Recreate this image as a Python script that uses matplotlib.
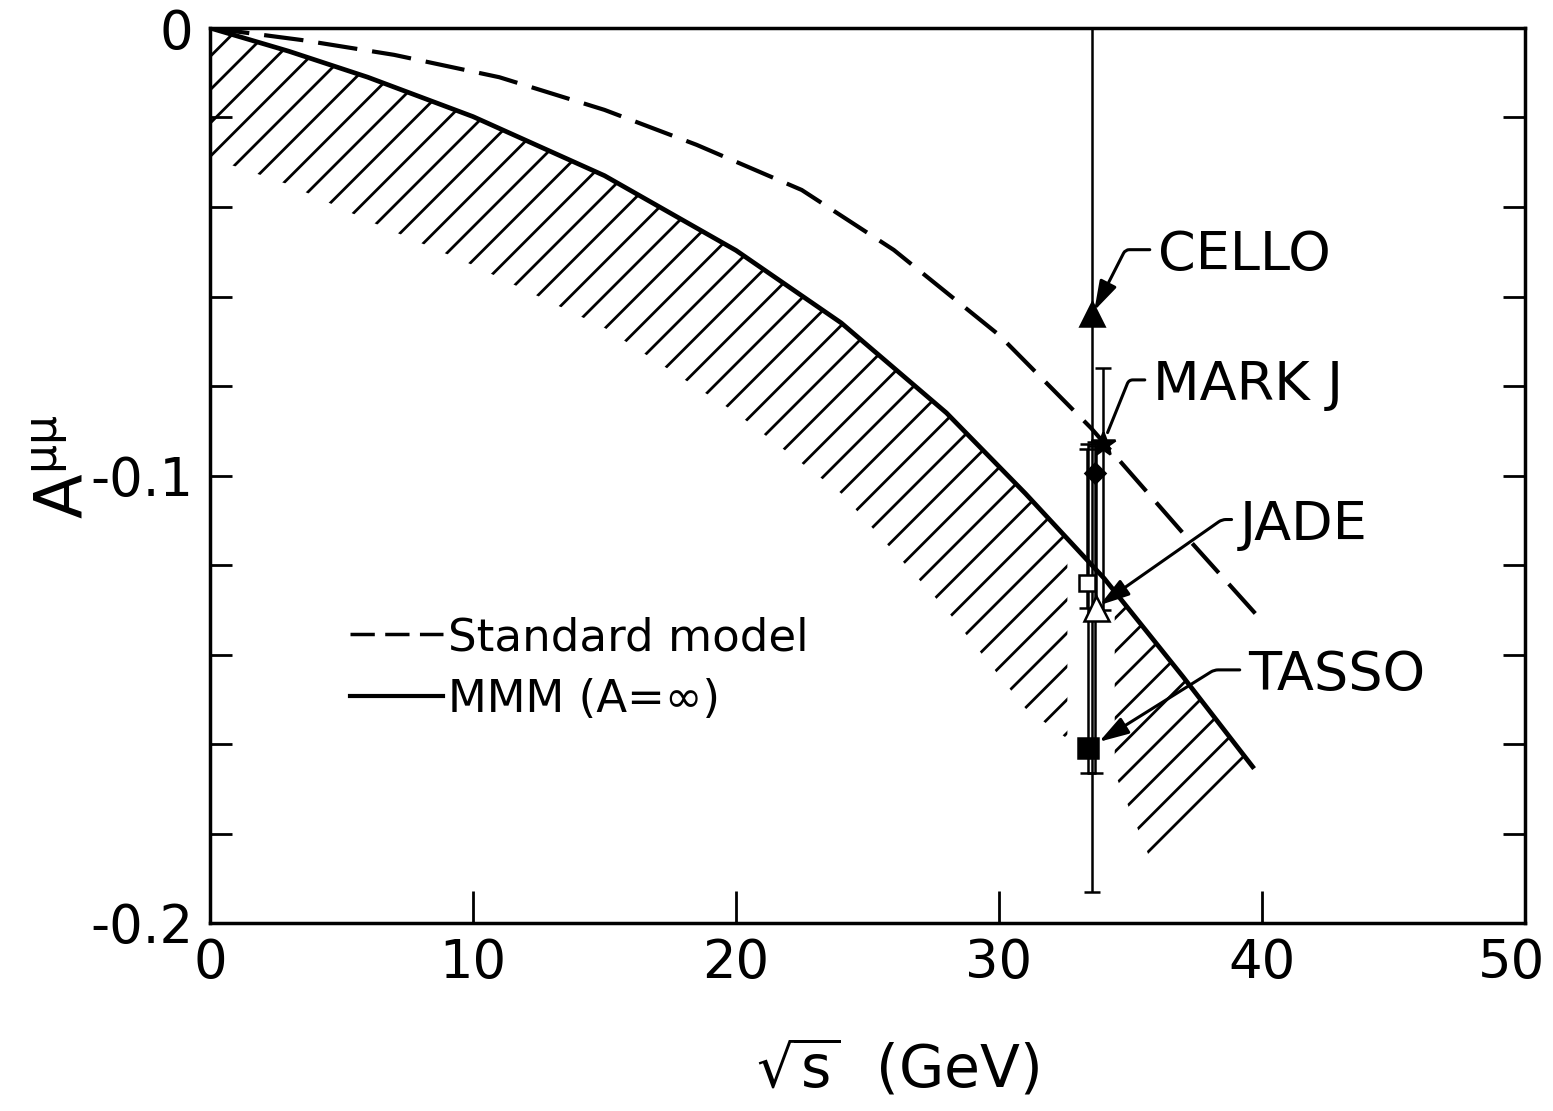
import numpy as np
import matplotlib
matplotlib.use("Agg")
import matplotlib.pyplot as plt
from matplotlib.lines import Line2D
from matplotlib.ticker import MultipleLocator, FixedLocator
from matplotlib.transforms import ScaledTranslation

plt.rcParams['font.family'] = ['DejaVu Sans']
plt.rcParams['mathtext.fontset'] = 'dejavusans'
plt.rcParams['mathtext.default'] = 'regular'
plt.rcParams['hatch.linewidth'] = 2.0

# MMM (A = infinity) curve, upper edge of the hatched band
mmm_x = [0, 3, 6, 10, 15, 20, 24, 28, 31, 34, 37, 39.7]
mmm_y = [0, -0.0052, -0.0110, -0.0198, -0.0330, -0.0497, -0.0659, -0.0860,
         -0.1040, -0.1230, -0.1450, -0.1655]

# lower edge of the hatched band
low_x = [0, 3, 6, 10, 15, 20, 24, 28, 31, 34.4, 35.7]
low_y = [-0.029, -0.035, -0.043, -0.053, -0.067, -0.086, -0.104, -0.130,
         -0.152, -0.1665, -0.185]

# standard model curve
sm_x = [0, 3.5, 7, 11, 15, 18.5, 22.5, 26, 30, 33.5, 37, 40]
sm_y = [0, -0.0027, -0.0060, -0.0110, -0.0183, -0.0261, -0.0362, -0.0496,
        -0.0686, -0.0894, -0.1129, -0.1325]

# measurements near sqrt(s) = 34 GeV
exp_names = ['CELLO', 'MARK J', '', '', 'JADE', 'TASSO']
exp_x = [33.55, 33.95, 33.65, 33.35, 33.7, 33.4]
exp_y = [-0.064, -0.093, -0.0995, -0.124, -0.1295, -0.161]
err_lo = [0.129, 0.037, 0.067, 0.0055, 0.0015, 0.0055]
err_hi = [0.129, 0.017, 0.007, 0.030, 0.036, 0.068]
exp_marker = ['^', '*', 'D', 's', '^', 's']
exp_face = ['k', 'k', 'k', 'w', 'w', 'k']
exp_ms = [17, 18, 10, 12, 18, 15]

gap_lo, gap_hi = 32.6, 34.4   # hatch left blank around the data points

fig = plt.figure(figsize=(15.53, 11.11), dpi=100)
ax = fig.add_axes([210 / 1553, 1 - 923 / 1111, 1315 / 1553, 895 / 1111])

# hatched band, split into two pieces around the data points
up_gl = np.interp(gap_lo, mmm_x, mmm_y)
lo_gl = np.interp(gap_lo, low_x, low_y)
left_x = [x for x in mmm_x if x < gap_lo] + [gap_lo, gap_lo] + \
         [x for x in low_x if x < gap_lo][::-1]
left_y = [y for x, y in zip(mmm_x, mmm_y) if x < gap_lo] + [up_gl, lo_gl] + \
         [y for x, y in zip(low_x, low_y) if x < gap_lo][::-1]
ax.fill(left_x, left_y, facecolor='none', edgecolor='k', hatch='/', lw=0, zorder=1)

up_gh = np.interp(gap_hi, mmm_x, mmm_y)
right_x = [gap_hi] + [x for x in mmm_x if x > gap_hi] + [low_x[-1], gap_hi]
right_y = [up_gh] + [y for x, y in zip(mmm_x, mmm_y) if x > gap_hi] + [low_y[-1], low_y[-2]]
ax.fill(right_x, right_y, facecolor='none', edgecolor='k', hatch='/', lw=0, zorder=1)

ax.plot(mmm_x, mmm_y, color='k', lw=3.4, zorder=2, solid_capstyle='butt')
ax.plot(sm_x, sm_y, color='k', lw=3.0, dashes=(9.5, 3.6), zorder=2)

for i in range(len(exp_x)):
    ax.errorbar(exp_x[i], exp_y[i], yerr=[[err_lo[i]], [err_hi[i]]], fmt='none',
                ecolor='k', elinewidth=1.8, capsize=6, capthick=1.8, zorder=3)
    ax.plot(exp_x[i], exp_y[i], marker=exp_marker[i], ms=exp_ms[i],
            mfc=exp_face[i], mec='k', mew=1.8, ls='none', zorder=4)

# labels with leaders
lab_x = [36.05, 35.86, 39.16, 39.47]
lab_y = [-0.0507, -0.0798, -0.1110, -0.1446]
lab_idx = [0, 1, 4, 5]
lab_angle = [63, 68, 35, 32]
lab_style = ['-|>', '-', '-|>', '-|>']
lab_shrink = [3, 9, 3, 9]
for tx, ty, i, ang, st, sh in zip(lab_x, lab_y, lab_idx, lab_angle, lab_style, lab_shrink):
    if st == '-|>':
        st = '-|>,head_length=1.8,head_width=0.55'
    ax.annotate(exp_names[i], xy=(exp_x[i], exp_y[i]), xytext=(tx, ty),
                fontsize=39, ha='left', va='center', zorder=5,
                arrowprops=dict(arrowstyle=st, color='k', lw=2.2, mutation_scale=10,
                                connectionstyle='angle,angleA=0,angleB=%d,rad=4' % ang,
                                relpos=(0, 0.6), shrinkA=4, shrinkB=sh))

h1 = Line2D([], [], color='k', lw=2.5, dashes=(7, 3))
h2 = Line2D([], [], color='k', lw=3.0)
ax.legend([h1, h2], ['Standard model', 'MMM (A=\u221e)'], loc='upper left',
          bbox_to_anchor=(0.1065, 0.343), frameon=False, fontsize=32.5,
          handlelength=2.05, handletextpad=0.12, labelspacing=0.42,
          borderpad=0, borderaxespad=0)

ax.set_xlim(0, 50)
ax.set_ylim(-0.2, 0)
ax.xaxis.set_major_locator(FixedLocator([0, 10, 20, 30, 40, 50]))
ax.set_xticklabels(['0', '10', '20', '30', '40', '50'])
ax.yaxis.set_major_locator(FixedLocator([-0.2, -0.1, 0]))
ax.set_yticklabels(['-0.2', '-0.1', '0'])
ax.yaxis.set_minor_locator(MultipleLocator(0.02))
ax.tick_params(axis='x', direction='in', length=23, width=2, labelsize=38, pad=10,
               top=False, bottom=True)
ax.tick_params(axis='y', which='both', direction='in', length=16, width=2,
               left=True, right=True, labelsize=38, pad=12)
for s in ax.spines.values():
    s.set_linewidth(2.5)

# last x tick label sits a little left of its tick, as in the original
last = ax.get_xticklabels()[-1]
last.set_transform(last.get_transform() + ScaledTranslation(-0.14, 0, fig.dpi_scale_trans))

ax.set_xlabel(r'$\sqrt{s}$  (GeV)', fontsize=42)
ax.xaxis.set_label_coords(0.523, -0.128)
ax.set_ylabel(r'$A^{\mu\mu}$', fontsize=47)
ax.yaxis.set_label_coords(-0.086, 0.51)

fig.savefig('out.png', dpi=100)
